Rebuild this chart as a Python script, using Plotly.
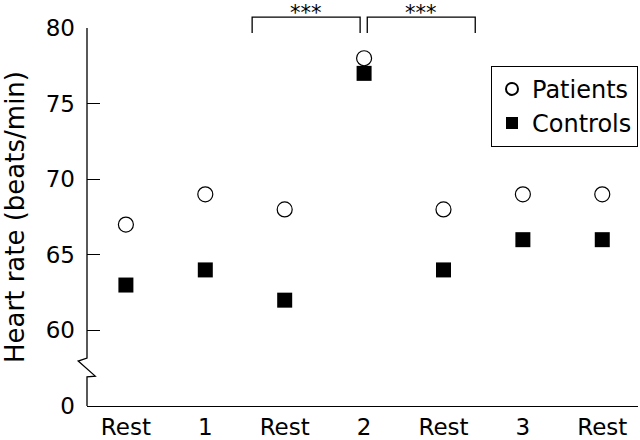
import plotly.graph_objects as go

categorias = ["Rest", "1", "Rest ", "2", "Rest  ", "3", "Rest   "]
etiquetas = ["Rest", "1", "Rest", "2", "Rest", "3", "Rest"]
pacientes = [67, 69, 68, 78, 68, 69, 69]
controles = [63, 64, 62, 77, 64, 66, 66]
y_ticks = [55, 60, 65, 70, 75, 80]
y_ticktext = ["0", "60", "65", "70", "75", "80"]

FUENTE = "DejaVu Sans"
x_pos = list(range(len(categorias)))

fig = go.Figure()

fig.add_trace(go.Scatter(
    x=x_pos, y=pacientes, mode="markers", name="Patients",
    marker=dict(symbol="circle-open", size=15, color="black", line=dict(width=1.2)),
))
fig.add_trace(go.Scatter(
    x=x_pos, y=controles, mode="markers", name="Controls",
    marker=dict(symbol="square", size=15, color="black"),
))

# eje y con corte (dibujado a mano)
fig.add_shape(type="path", xref="paper", yref="paper",
              path="M0,1 L0,0.127 L-0.016,0.119 L0.015,0.079 L0,0.077 L0,0",
              line=dict(color="black", width=1.3))

# corchetes de significancia
for x0, x1 in [(1.59, 2.95), (3.04, 4.40)]:
    fig.add_shape(type="path", xref="x", yref="paper",
                  path=f"M{x0},0.987 L{x0},1.029 L{x1},1.029 L{x1},0.987",
                  line=dict(color="black", width=1.3))
    fig.add_annotation(x=(x0 + x1) / 2, y=1.04, xref="x", yref="paper",
                       text="***", showarrow=False, yanchor="middle",
                       font=dict(size=21, color="black", family=FUENTE))

fig.update_layout(
    width=640, height=440,
    margin=dict(l=87, r=2, t=28, b=34),
    plot_bgcolor="white", paper_bgcolor="white",
    font=dict(family=FUENTE, size=23, color="black"),
    showlegend=True,
    legend=dict(x=1, y=0.9, xanchor="right", yanchor="top",
                bordercolor="black", borderwidth=1, bgcolor="white",
                font=dict(size=24), itemsizing="constant", tracegroupgap=0),
)
fig.update_xaxes(
    range=[-0.49, 6.45], tickvals=x_pos, ticktext=etiquetas,
    showline=True, linecolor="black", linewidth=1.3, automargin=False,
    showgrid=False, zeroline=False, ticks="", ticklabelstandoff=0,
)
fig.update_yaxes(
    range=[55, 80], tickvals=y_ticks, ticktext=y_ticktext, automargin=False,
    showline=False, showgrid=False, zeroline=False,
    ticks="inside", ticklen=13, tickcolor="black", tickwidth=1.3,
    ticklabelstandoff=11,
    title=dict(text="Heart rate (beats/min)", font=dict(size=26), standoff=18),
)

fig.write_html("out.html", config={"displayModeBar": False},
               post_script="document.body.style.margin='0';")
